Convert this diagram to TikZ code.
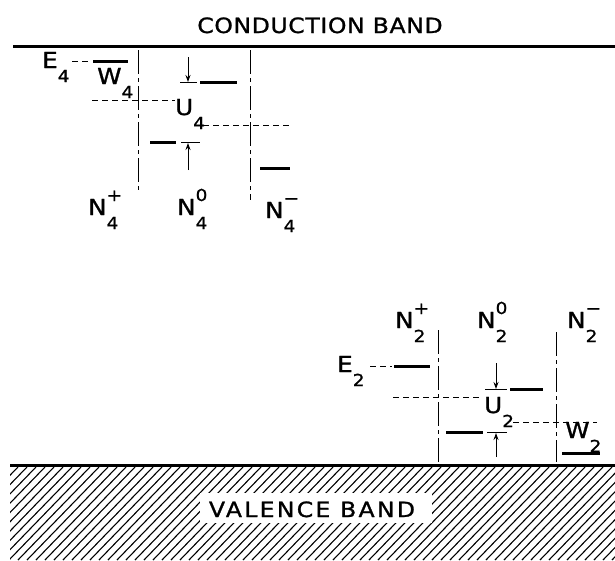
\documentclass[tikz,border=0pt]{standalone}
\usepackage{fontspec}
\newfontfamily\leroy[FakeStretch=1.12,FakeBold=1.2,LetterSpace=3]{DejaVu Sans}
\usetikzlibrary{arrows.meta}

\newcommand{\subfnt}{\fontsize{16.5}{16.5}\selectfont}
% letter with stacked subscript / superscript
\newcommand{\lev}[3]{#1\rlap{\raisebox{14pt}{\subfnt #3}}\raisebox{-14pt}{\subfnt #2}}

\begin{document}
\begin{tikzpicture}[x=1pt,y=-1pt,
  every node/.style={inner sep=0pt,font=\leroy\fontsize{22}{22}\selectfont},
  bandname/.style={font=\leroy\fontsize{21}{21}\selectfont},
  bandline/.style={line width=3pt},
  levelbar/.style={line width=3pt},
  guideline/.style={line width=0.9pt,dash pattern=on 6pt off 4pt},
  dashdot/.style={line width=1pt,dash pattern=on 24pt off 4pt on 4pt off 4pt},
  tickline/.style={line width=0.9pt},
  dimarrow/.style={line width=1pt,-{Stealth[length=7pt,width=5pt]}},
  hatchline/.style={line width=1.1pt}]

\useasboundingbox (0,0) rectangle (615,560);

%---------------------------------------
% Bands
%---------------------------------------
\node[bandname,anchor=base] (cb) at (320,33) {CONDUCTION BAND};
\draw[bandline] (13,46) -- (615,46);

\begin{scope}
  \clip (10,467) rectangle (615,560);
  \foreach \x in {-90,-81,...,615}
    \draw[hatchline] (\x,560) -- ++(90,-93);
\end{scope}
\fill[white] (200,493) rectangle (432,523);
\draw[bandline] (10,465) -- (615,465);
\node[bandname,anchor=base] (vb) at (312,517) {\addfontfeature{LetterSpace=11}VALENCE BAND};

%====================================================
% N4 levels (upper left)
%====================================================
\draw[dashdot] (138,50) -- (138,190);
\draw[dashdot] (250,50) -- (250,200);

\node[anchor=base west] (E4) at (42,68) {\lev{E}{4}{}};
\draw[guideline] (72,61) -- (91,61);
\draw[levelbar] (93,61) -- (128,61);
\node[anchor=base west] (W4) at (97,84) {\lev{W}{4}{}};

% U4
\draw[guideline] (92,100) -- (175,100);
\node[anchor=base west] (U4) at (175,115) {\lev{U}{4}{}};
\draw[guideline] (203,125) -- (290,125);

\draw[dimarrow] (188,57) -- (188,82);
\draw[tickline] (180,82) -- (197,82);
\draw[levelbar] (200,82) -- (237,82);
\draw[levelbar] (150,142) -- (176,142);
\draw[tickline] (181,142) -- (200,142);
\draw[dimarrow] (188,170) -- (188,143);
\draw[levelbar] (260,168) -- (290,168);

\node[anchor=base west] (N4p) at (88,215) {\lev{N}{4}{+}};
\node[anchor=base west] (N4z) at (177,215) {\lev{N}{4}{0}};
\node[anchor=base west] (N4m) at (265,218) {\lev{N}{4}{−}};

%====================================================
% N2 levels (lower right)
%====================================================
\draw[dashdot] (438,330) -- (438,462);
\draw[dashdot] (556,332) -- (556,462);

\node[anchor=base west] (N2p) at (395,328) {\lev{N}{2}{+}};
\node[anchor=base west] (N2z) at (477,328) {\lev{N}{2}{0}};
\node[anchor=base west] (N2m) at (567,328) {\lev{N}{2}{−}};

\node[anchor=base west] (E2) at (337,372) {\lev{E}{2}{}};
\draw[guideline] (370,366) -- (392,366);
\draw[levelbar] (394,366) -- (430,366);

% U2
\draw[guideline] (393,397) -- (480,397);
\node[anchor=base west] (U2) at (484,413) {\lev{U}{2}{}};
\draw[guideline] (513,422) -- (597,422);

\draw[dimarrow] (496,363) -- (496,389);
\draw[tickline] (485,389) -- (507,389);
\draw[levelbar] (510,389) -- (543,389);
\draw[levelbar] (446,432) -- (483,432);
\draw[tickline] (487,432) -- (507,432);
\draw[dimarrow] (496,457) -- (496,433);

\node[anchor=base west] (W2) at (565,438) {\lev{W}{2}{}};
\draw[levelbar] (562,453) -- (600,453);

\end{tikzpicture}
\end{document}
